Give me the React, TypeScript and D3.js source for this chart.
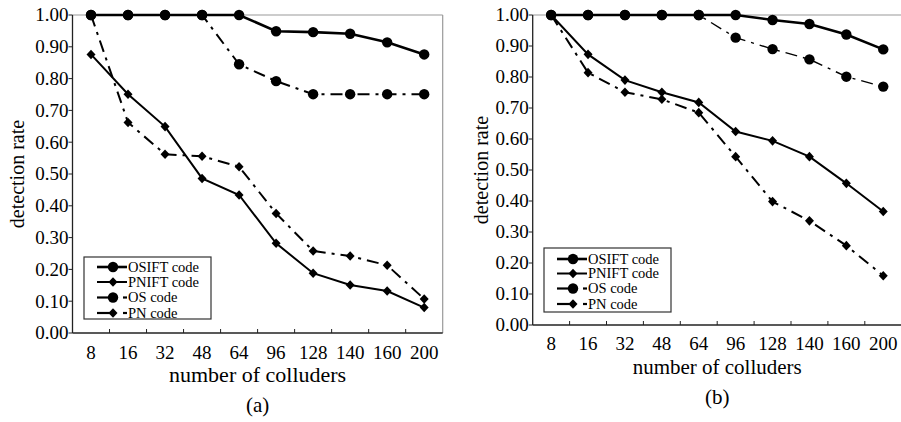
import React from 'react';
import * as d3 from 'd3';

// x categories (number of colluders) and tick labels
const colluders = ['8', '16', '32', '48', '64', '96', '128', '140', '160', '200'];
const yTicks = [0, 0.1, 0.2, 0.3, 0.4, 0.5, 0.6, 0.7, 0.8, 0.9, 1.0];

// panel (a)
const osiftA = [1, 1, 1, 1, 1, 0.949, 0.946, 0.941, 0.914, 0.876];
const pniftA = [0.876, 0.751, 0.649, 0.486, 0.434, 0.282, 0.188, 0.151, 0.132, 0.08];
const osA = [1, 1, 1, 1, 0.845, 0.792, 0.751, 0.751, 0.751, 0.751];
const pnA = [1, 0.662, 0.562, 0.556, 0.523, 0.376, 0.258, 0.242, 0.213, 0.107];

// panel (b)
const osiftB = [1, 1, 1, 1, 1, 1, 0.984, 0.971, 0.937, 0.889];
const pniftB = [1, 0.873, 0.79, 0.751, 0.718, 0.624, 0.594, 0.543, 0.457, 0.366];
const osB = [1, 1, 1, 1, 1, 0.927, 0.89, 0.857, 0.801, 0.769];
const pnB = [1, 0.814, 0.751, 0.728, 0.685, 0.543, 0.398, 0.336, 0.256, 0.159];

const legendNames = ['OSIFT code', 'PNIFT code', 'OS code', 'PN code'];

const FONT = "'Liberation Serif', 'DejaVu Serif', serif";

type Style = { width: number; dash?: string; marker: 'circle' | 'diamond' };

const styles: Style[] = [
  { width: 2.6, marker: 'circle' },
  { width: 2, marker: 'diamond' },
  { width: 2, dash: '12,6,3,6', marker: 'circle' },
  { width: 2, dash: '12,6,3,6', marker: 'diamond' },
];

const Marker = ({ kind, x, y }: { kind: string; x: number; y: number }) =>
  kind === 'circle' ? (
    <circle cx={x} cy={y} r={5.2} fill="#000" />
  ) : (
    <path d={`M${x},${y - 4.8}L${x + 4.5},${y}L${x},${y + 4.8}L${x - 4.5},${y}Z`} fill="#000" />
  );

interface PanelProps {
  series: number[][];
  left: number;
  right: number;
  top: number;
  bottom: number;
  legend: { x: number; y: number; w: number; h: number; rows: number[] };
  yTitleX: number;
  tickY: number;
  xTitleY: number;
  xTitleSize: number;
  caption: string;
  thinDash?: boolean;
}

const Panel = ({ series, left, right, top, bottom, legend, yTitleX, tickY, xTitleY, xTitleSize, caption, thinDash }: PanelProps) => {
  const x = d3.scaleBand().domain(colluders).range([left, right]);
  const y = d3.scaleLinear().domain([0, 1]).range([bottom, top]);
  const cx = (c: string) => (x(c) ?? 0) + x.bandwidth() / 2;
  const line = d3
    .line<number>()
    .x((_, i) => cx(colluders[i]))
    .y(d => y(d));
  const mid = (left + right) / 2;
  const txt = { fontFamily: FONT };

  return (
    <g fill="#000">
      {/* frame */}
      <line x1={left} x2={right} y1={top} y2={top} stroke="#999" strokeWidth={1.2} />
      <line x1={right} x2={right} y1={top} y2={bottom} stroke="#999" strokeWidth={1.2} />
      <line x1={left} x2={left} y1={top} y2={bottom} stroke="#222" strokeWidth={1.3} />
      <line x1={left} x2={right} y1={bottom} y2={bottom} stroke="#222" strokeWidth={1.3} />

      {/* y axis */}
      {yTicks.map(t => (
        <g key={t}>
          <line x1={left - 4} x2={left} y1={y(t)} y2={y(t)} stroke="#222" strokeWidth={1} />
          <text x={left - 4} y={y(t)} dy="0.34em" textAnchor="end" fontSize={19} style={txt}>
            {t.toFixed(2)}
          </text>
        </g>
      ))}

      {/* x axis: ticks at band boundaries, pointing inward */}
      {colluders.slice(1).map(c => (
        <line key={c} x1={x(c)} x2={x(c)} y1={bottom} y2={bottom - 4} stroke="#222" strokeWidth={1} />
      ))}
      {colluders.map(c => (
        <text key={c} x={cx(c)} y={tickY} textAnchor="middle" fontSize={19} style={txt}>
          {c}
        </text>
      ))}

      <text x={mid} y={xTitleY} textAnchor="middle" fontSize={xTitleSize} style={txt}>
        number of colluders
      </text>
      <text x={mid} y={xTitleY + 30} textAnchor="middle" fontSize={21} style={txt}>
        {caption}
      </text>
      <text
        transform={`translate(${yTitleX},${(top + bottom) / 2}) rotate(-90)`}
        textAnchor="middle"
        dy="0.35em"
        fontSize={20}
        style={txt}
      >
        detection rate
      </text>

      {/* series */}
      {series.map((s, i) => {
        const st = styles[i];
        const thin = thinDash && i === 2;
        return (
          <g key={i}>
            <path
              d={line(s) ?? ''}
              fill="none"
              stroke="#000"
              strokeWidth={thin ? 1.4 : st.width}
              strokeDasharray={st.dash}
            />
            {s.map((v, j) => (
              <Marker key={j} kind={st.marker} x={cx(colluders[j])} y={y(v)} />
            ))}
          </g>
        );
      })}

      {/* legend */}
      <rect x={legend.x} y={legend.y} width={legend.w} height={legend.h} fill="#fff" stroke="#333" strokeWidth={1.2} />
      {legendNames.map((name, i) => {
        const ly = legend.rows[i];
        const lx = legend.x + 13;
        const st = styles[i];
        return (
          <g key={name}>
            {st.dash ? (
              <>
                <line x1={lx} x2={lx + 16} y1={ly} y2={ly} stroke="#000" strokeWidth={2.2} />
                <line x1={lx + 26} x2={lx + 30} y1={ly} y2={ly} stroke="#000" strokeWidth={2.2} />
              </>
            ) : (
              <line x1={lx} x2={lx + 30} y1={ly} y2={ly} stroke="#000" strokeWidth={st.width} />
            )}
            <Marker kind={st.marker} x={lx + 16} y={ly} />
            <text x={lx + 31} y={ly} dy="0.34em" fontSize={14.5} style={txt}>
              {name}
            </text>
          </g>
        );
      })}
    </g>
  );
};

export default function App() {
  return (
    <svg
      width={901}
      height={422}
      style={{ position: 'absolute', left: 0, top: 0, background: '#fff', fontFamily: FONT }}
    >
      <rect width={901} height={422} fill="#fff" />
      <Panel
        series={[osiftA, pniftA, osA, pnA]}
        left={72.5}
        right={442.7}
        top={15}
        bottom={333}
        legend={{ x: 84, y: 257, w: 127, h: 62, rows: [267, 282, 297.5, 313] }}
        yTitleX={17}
        tickY={359}
        xTitleY={382}
        xTitleSize={22}
        caption="(a)"
      />
      <Panel
        series={[osiftB, pniftB, osB, pnB]}
        left={532.7}
        right={901.7}
        top={15}
        bottom={325}
        legend={{ x: 544, y: 248, w: 127, h: 64, rows: [259, 273.5, 288.5, 304] }}
        yTitleX={481}
        tickY={350}
        xTitleY={374}
        xTitleSize={21}
        caption="(b)"
        thinDash
      />
    </svg>
  );
}
